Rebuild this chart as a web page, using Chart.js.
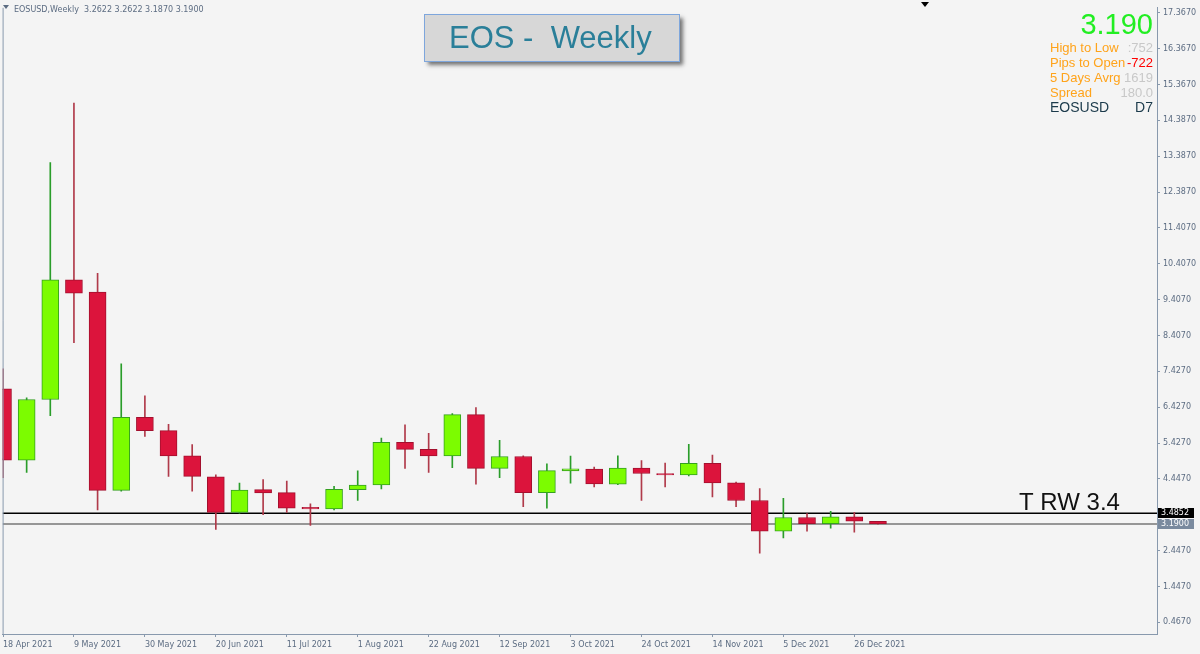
<!DOCTYPE html>
<html>
<head>
<meta charset="utf-8">
<title>EOS - Weekly</title>
<script src="https://cdn.jsdelivr.net/npm/chart.js@4.4.1/dist/chart.umd.min.js"></script>
<style>
  html, body { margin: 0; padding: 0; background: #f4f4f4; }
  #wrap { width: 1200px; height: 654px; }
</style>
</head>
<body>
<div id="wrap"><canvas id="chart" width="1200" height="654"></canvas></div>
<script>
// weekly candles, EOSUSD
const weeks = [
  "18 Apr 2021", "25 Apr 2021", "2 May 2021", "9 May 2021", "16 May 2021", "23 May 2021",
  "30 May 2021", "6 Jun 2021", "13 Jun 2021", "20 Jun 2021", "27 Jun 2021", "4 Jul 2021",
  "11 Jul 2021", "18 Jul 2021", "25 Jul 2021", "1 Aug 2021", "8 Aug 2021", "15 Aug 2021",
  "22 Aug 2021", "29 Aug 2021", "5 Sep 2021", "12 Sep 2021", "19 Sep 2021", "26 Sep 2021",
  "3 Oct 2021", "10 Oct 2021", "17 Oct 2021", "24 Oct 2021", "31 Oct 2021", "7 Nov 2021",
  "14 Nov 2021", "21 Nov 2021", "28 Nov 2021", "5 Dec 2021", "12 Dec 2021", "19 Dec 2021",
  "26 Dec 2021", "2 Jan 2022"
];
const opens = [
  6.94, 4.96, 6.64, 9.96, 9.62, 4.12, 6.15, 5.78, 5.08, 4.50, 3.51, 4.14,
  4.06, 3.65, 3.61, 4.14, 4.27, 5.45, 5.26, 5.08, 6.22, 4.73, 5.06, 4.06,
  4.66, 4.71, 4.29, 4.74, 4.59, 4.55, 4.87, 4.33, 3.84, 2.99, 3.37, 3.20,
  3.39, 3.2622
];
const highs = [
  7.49, 6.69, 13.21, 14.86, 10.14, 7.63, 6.74, 5.95, 5.39, 4.55, 4.32, 4.42,
  4.38, 3.75, 4.23, 4.66, 5.57, 5.94, 5.70, 6.25, 6.42, 5.51, 5.08, 4.86,
  5.07, 4.77, 5.08, 4.95, 4.88, 5.40, 5.10, 4.35, 4.17, 3.90, 3.48, 3.54,
  3.51, 3.2622
];
const lows = [
  4.47, 4.62, 6.19, 8.22, 3.58, 4.10, 5.62, 4.51, 4.10, 3.04, 3.49, 3.45,
  3.51, 3.15, 3.58, 3.84, 4.16, 4.73, 4.62, 4.75, 4.29, 4.47, 3.67, 3.63,
  4.32, 4.22, 4.28, 3.84, 4.22, 4.52, 3.94, 3.67, 2.38, 2.80, 2.99, 3.07,
  2.96, 3.187
];
const closes = [
  4.96, 6.64, 9.96, 9.59, 4.12, 6.15, 5.78, 5.08, 4.51, 3.51, 4.13, 4.05,
  3.63, 3.61, 4.15, 4.27, 5.45, 5.26, 5.08, 6.22, 4.73, 5.06, 4.06, 4.67,
  4.72, 4.30, 4.74, 4.59, 4.55, 4.87, 4.33, 3.84, 2.99, 3.37, 3.20, 3.39,
  3.27, 3.19
];

// axis ticks
const xTickIdx = [0, 3, 6, 9, 12, 15, 18, 21, 24, 27, 30, 33, 36];
const yTickVals = [0.467, 1.447, 2.447, 4.447, 5.427, 6.427, 7.427, 8.407, 9.407,
  10.407, 11.407, 12.387, 13.387, 14.387, 15.367, 16.367, 17.367];

// horizontal levels and texts
const levels = [3.4852, 3.19];
const levelNote = "T RW 3.4";
const headerText = "EOSUSD,Weekly  3.2622 3.2622 3.1870 3.1900";
const titleText = "EOS -  Weekly";
const lastPrice = "3.190";
const infoNames = ["High to Low", "Pips to Open", "5 Days Avrg", "Spread", "EOSUSD"];
const infoValues = [":752", "-722", "1619", "180.0", "D7"];

const X_MIN = -0.017, X_MAX = 48.8;
const Y_MIN = 0.138, Y_MAX = 17.504;

const AXIS_COL = "#8899ad";
const LABEL_COL = "#5c6c82";
const TICK_FONT = { family: "DejaVu Sans", size: 8 };

const up = closes.map((c, i) => c >= opens[i]);
const bodyData = weeks.map((w, i) => ({ x: i, y: [opens[i], closes[i]] }));
const wickData = weeks.map((w, i) => ({ x: i, y: [lows[i], highs[i]] }));

const levelSets = levels.map((lv, k) => ({
  type: "line",
  data: [{ x: X_MIN, y: lv }, { x: X_MAX, y: lv }],
  borderColor: k === 0 ? "#000000" : "#777777",
  borderWidth: 1.5,
  pointRadius: 0,
  order: 3
}));

// everything that is not a data mark
const decor = {
  id: "decor",
  beforeDraw(chart) {
    const ctx = chart.ctx;
    ctx.save();
    ctx.fillStyle = "#f4f4f4";
    ctx.fillRect(0, 0, chart.width, chart.height);
    ctx.restore();
  },
  afterDraw(chart) {
    const ctx = chart.ctx;
    const a = chart.chartArea;
    const ys = chart.scales.y;
    ctx.save();

    // left frame
    ctx.strokeStyle = AXIS_COL;
    ctx.lineWidth = 1;
    ctx.beginPath();
    ctx.moveTo(a.left + 0.5, a.top);
    ctx.lineTo(a.left + 0.5, a.bottom);
    ctx.stroke();

    // header line
    ctx.fillStyle = LABEL_COL;
    ctx.beginPath();
    ctx.moveTo(3, 5); ctx.lineTo(9, 5); ctx.lineTo(6, 9);
    ctx.fill();
    ctx.font = "8px 'DejaVu Sans'";
    ctx.textBaseline = "alphabetic";
    ctx.textAlign = "left";
    ctx.fillText(headerText, 14, 12);

    // shift marker
    ctx.fillStyle = "#000";
    ctx.beginPath();
    ctx.moveTo(921, 2); ctx.lineTo(929, 2); ctx.lineTo(925, 7);
    ctx.fill();

    // title box
    ctx.save();
    ctx.shadowColor = "rgba(60,60,60,0.7)";
    ctx.shadowBlur = 4;
    ctx.shadowOffsetX = 4;
    ctx.shadowOffsetY = 4;
    ctx.fillStyle = "#d7d7d7";
    ctx.fillRect(424, 14, 255, 47);
    ctx.restore();
    ctx.strokeStyle = "#7ea6dc";
    ctx.strokeRect(424.5, 14.5, 255, 47);
    ctx.fillStyle = "#2a7f99";
    ctx.font = "31px 'Liberation Sans', Arial";
    ctx.textAlign = "left";
    ctx.fillText(titleText, 449, 48);

    // info panel
    ctx.textAlign = "right";
    ctx.fillStyle = "#22ee22";
    ctx.font = "29px 'Liberation Sans', Arial";
    ctx.fillText(lastPrice, 1153, 34);
    const valCols = ["#c8c8c8", "#ff0000", "#c8c8c8", "#c8c8c8", "#1b3a4b"];
    for (let i = 0; i < infoNames.length; i++) {
      const by = 52 + i * 15;
      const last = i === infoNames.length - 1;
      ctx.font = (last ? "14px" : "13px") + " 'Liberation Sans', Arial";
      ctx.textAlign = "left";
      ctx.fillStyle = last ? "#1b3a4b" : "#ffa31a";
      ctx.fillText(infoNames[i], 1050, by);
      ctx.textAlign = "right";
      ctx.fillStyle = valCols[i];
      ctx.fillText(infoValues[i], 1153, by);
    }

    // level note
    const y0 = ys.getPixelForValue(levels[0]);
    ctx.textAlign = "left";
    ctx.fillStyle = "#111";
    ctx.font = "24px 'Liberation Sans', Arial";
    ctx.fillText(levelNote, 1019, y0 - 3);

    // price labels on the axis
    ctx.font = "8px 'DejaVu Sans'";
    ctx.textBaseline = "middle";
    levels.forEach((lv, k) => {
      const py = Math.round(ys.getPixelForValue(lv));
      ctx.fillStyle = k === 0 ? "#000" : "#7a8a9e";
      ctx.fillRect(a.right + 1, py - 5, 36, 10);
      ctx.fillStyle = "#fff";
      ctx.fillText(lv.toFixed(4), a.right + 4, py);
    });
    ctx.restore();
  }
};

new Chart(document.getElementById("chart"), {
  type: "bar",
  data: {
    datasets: [
      {
        data: bodyData,
        backgroundColor: up.map(u => u ? "#7cfc00" : "#dc143c"),
        borderColor: up.map(u => u ? "#35a020" : "#a3102e"),
        borderWidth: 1,
        borderSkipped: false,
        barThickness: 17,
        grouped: false,
        order: 1
      },
      {
        data: wickData,
        backgroundColor: up.map(u => u ? "#2a9d2a" : "#b03a4a"),
        barThickness: 1,
        grouped: false,
        order: 2
      },
      ...levelSets
    ]
  },
  options: {
    responsive: false,
    animation: false,
    devicePixelRatio: 1,
    layout: { padding: { top: 1, left: 0, right: 0, bottom: 0 } },
    plugins: { legend: { display: false }, tooltip: { enabled: false } },
    scales: {
      x: {
        type: "linear",
        position: "bottom",
        offset: false,
        min: X_MIN,
        max: X_MAX,
        afterFit: s => { s.height = 20; },
        afterBuildTicks: s => { s.ticks = xTickIdx.map(v => ({ value: v })); },
        ticks: {
          callback: v => weeks[v],
          align: "start",
          autoSkip: false,
          maxRotation: 0,
          padding: 3,
          color: LABEL_COL,
          font: TICK_FONT
        },
        grid: { offset: false, drawOnChartArea: false, tickLength: 3, color: AXIS_COL },
        border: { display: true, color: AXIS_COL }
      },
      y: {
        type: "linear",
        position: "right",
        min: Y_MIN,
        max: Y_MAX,
        afterFit: s => { s.width = 43; },
        afterBuildTicks: s => { s.ticks = yTickVals.map(v => ({ value: v })); },
        ticks: {
          callback: v => v.toFixed(4),
          autoSkip: false,
          padding: 3,
          color: LABEL_COL,
          font: TICK_FONT
        },
        grid: { drawOnChartArea: false, tickLength: 3, color: AXIS_COL },
        border: { display: true, color: AXIS_COL }
      }
    }
  },
  plugins: [decor]
});
</script>
</body>
</html>
